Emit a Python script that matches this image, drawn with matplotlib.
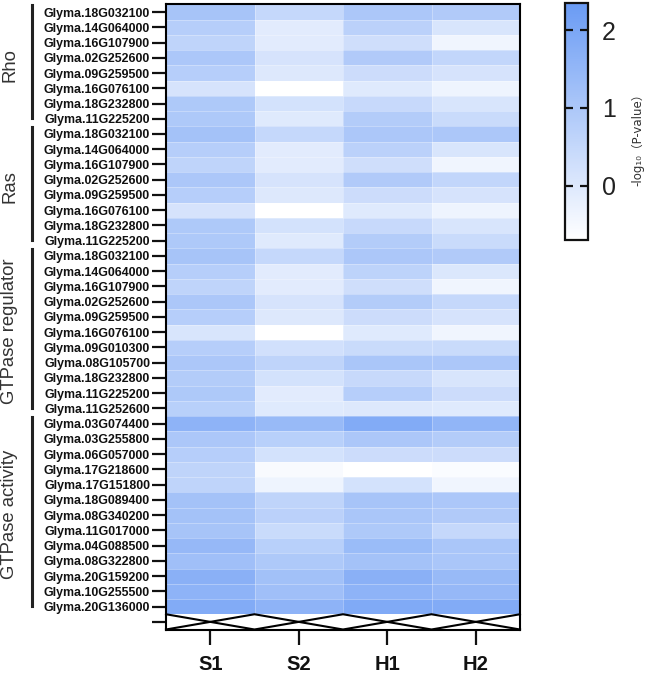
import numpy as np
import matplotlib
matplotlib.use("Agg")
import matplotlib.pyplot as plt
from matplotlib.colors import LinearSegmentedColormap

# ---------------- data ----------------
columns = ["S1", "S2", "H1", "H2"]

group_names = ["Rho", "Ras", "GTPase regulator", "GTPase activity"]

rho_genes = ["Glyma.18G032100", "Glyma.14G064000", "Glyma.16G107900", "Glyma.02G252600",
             "Glyma.09G259500", "Glyma.16G076100", "Glyma.18G232800", "Glyma.11G225200"]
rho_vals = [[1.10, 0.50, 1.00, 0.90],
            [0.80, -0.10, 0.70, 0.10],
            [0.60, -0.10, 0.30, -0.40],
            [1.00, 0.15, 0.90, 0.55],
            [0.80, 0.00, 0.35, 0.15],
            [0.15, -0.70, -0.05, -0.35],
            [0.95, 0.20, 0.45, 0.10],
            [0.95, -0.05, 0.85, 0.40]]

ras_genes = ["Glyma.18G032100", "Glyma.14G064000", "Glyma.16G107900", "Glyma.02G252600",
             "Glyma.09G259500", "Glyma.16G076100", "Glyma.18G232800", "Glyma.11G225200"]
ras_vals = [[1.15, 0.50, 1.00, 1.00],
            [0.80, -0.10, 0.70, 0.10],
            [0.60, -0.10, 0.30, -0.40],
            [1.00, 0.15, 0.90, 0.55],
            [0.80, 0.00, 0.35, 0.15],
            [0.15, -0.70, -0.05, -0.35],
            [0.95, 0.20, 0.45, 0.10],
            [0.95, -0.05, 0.85, 0.40]]

reg_genes = ["Glyma.18G032100", "Glyma.14G064000", "Glyma.16G107900", "Glyma.02G252600",
             "Glyma.09G259500", "Glyma.16G076100", "Glyma.09G010300", "Glyma.08G105700",
             "Glyma.18G232800", "Glyma.11G225200", "Glyma.11G252600"]
reg_vals = [[1.10, 0.50, 1.00, 0.90],
            [0.80, -0.10, 0.65, 0.05],
            [0.60, -0.10, 0.30, -0.40],
            [1.00, 0.15, 0.85, 0.50],
            [0.80, 0.00, 0.35, 0.15],
            [0.10, -0.70, -0.05, -0.40],
            [0.80, 0.25, 0.40, 0.40],
            [1.00, 0.60, 1.05, 1.00],
            [0.85, 0.20, 0.45, 0.10],
            [0.95, -0.10, 0.80, 0.35],
            [0.75, -0.05, 0.00, -0.05]]

act_genes = ["Glyma.03G074400", "Glyma.03G255800", "Glyma.06G057000", "Glyma.17G218600",
             "Glyma.17G151800", "Glyma.18G089400", "Glyma.08G340200", "Glyma.11G017000",
             "Glyma.04G088500", "Glyma.08G322800", "Glyma.20G159200", "Glyma.10G255500",
             "Glyma.20G136000"]
act_vals = [[1.60, 1.40, 1.85, 1.55],
            [1.00, 0.75, 1.00, 0.85],
            [0.80, 0.20, 0.35, 0.35],
            [0.60, -0.55, -0.70, -0.60],
            [0.60, -0.35, 0.20, -0.40],
            [1.15, 0.60, 1.10, 1.00],
            [1.15, 0.70, 1.05, 0.90],
            [1.10, 0.40, 0.95, 0.50],
            [1.45, 0.75, 1.35, 1.05],
            [1.25, 0.95, 1.15, 1.05],
            [1.70, 1.20, 1.70, 1.40],
            [1.60, 1.25, 1.60, 1.45],
            [1.85, 1.60, 1.90, 1.85]]

cbar_ticks = [0, 1, 2]
vmin, vmax = -0.7, 2.35

# ---------------- assemble ----------------
groups = [(rho_genes, rho_vals), (ras_genes, ras_vals),
          (reg_genes, reg_vals), (act_genes, act_vals)]
genes = sum([g for g, _ in groups], [])
vals = np.vstack([np.array(v, dtype=float) for _, v in groups])
n_rows = len(genes)
# extra empty row at the bottom (crossed pattern)
data = np.vstack([vals, np.full((1, len(columns)), np.nan)])
data = np.ma.masked_invalid(data)

cmap = LinearSegmentedColormap.from_list("wb", ["#ffffff", "#6a9bf4"])

fig = plt.figure(figsize=(6.5, 6.74), dpi=100)
W, H = 650, 674

def fx(px):
    return px / W

def fy(py):
    return 1 - py / H

top_px, bot_px = 4.4, 629.5
row_px = (bot_px - top_px) / (n_rows + 1)
ax = fig.add_axes([fx(166), fy(bot_px), fx(520) - fx(166), fy(top_px) - fy(bot_px)])
ax.set_facecolor("white")
mesh = ax.pcolormesh(np.arange(len(columns) + 1), np.arange(n_rows + 2), data,
                     cmap=cmap, vmin=vmin, vmax=vmax, shading="flat")
ax.set_xlim(0, len(columns))
ax.set_ylim(n_rows + 1, 0)

# faint cell separators
for r in range(1, n_rows + 1):
    ax.axhline(r, color="white", lw=0.6, alpha=0.35)
for c in range(1, len(columns)):
    ax.plot([c, c], [0, n_rows], color="white", lw=0.6, alpha=0.35)

# crossed pattern in last row
xs = np.arange(len(columns) + 1)
ya = [n_rows + 1 if i % 2 == 0 else n_rows for i in xs]
yb = [n_rows if i % 2 == 0 else n_rows + 1 for i in xs]
ax.plot(xs, ya, color="black", lw=1.5, clip_on=False)
ax.plot(xs, yb, color="black", lw=1.5, clip_on=False)

for s in ax.spines.values():
    s.set_linewidth(1.5)
    s.set_color("black")

ax.set_yticks(np.arange(n_rows + 1) + 0.5)
ax.set_yticklabels(genes + [""], fontfamily="Liberation Sans", fontweight="bold",
                   fontsize=8.9, color="#111111")
ax.tick_params(axis="y", length=10, width=1.6, pad=1.5, color="#111111")
ax.set_xticks(np.arange(len(columns)) + 0.5)
ax.set_xticklabels(columns, fontfamily="Liberation Sans", fontweight="bold",
                   fontsize=14.5, color="#111111")
ax.tick_params(axis="x", length=11, width=1.6, pad=7, color="#111111")

# group brackets and labels
start = 0
for name, (g, _) in zip(group_names, groups):
    end = start + len(g)
    y0 = start + 0.05
    y1 = end - 0.55
    fig.lines.append(plt.Line2D([fx(32), fx(32)],
                                [fy(top_px + y0 * row_px), fy(top_px + y1 * row_px)],
                                transform=fig.transFigure, color="#222222", lw=2.2))
    yc = top_px + ((y0 + y1) / 2) * row_px + 3
    fig.text(fx(10), fy(yc), name, rotation=90, ha="center", va="center",
             fontfamily="Liberation Sans", fontsize=13.3, color="#333333")
    start = end

# colorbar
cax = fig.add_axes([fx(565), fy(240), fx(588) - fx(565), fy(3) - fy(240)])
cb = fig.colorbar(mesh, cax=cax, ticks=cbar_ticks)
cb.outline.set_linewidth(1.6)
cb.outline.set_edgecolor("#111111")
cax.tick_params(left=True, right=True, direction="in", length=6, width=1.6,
                labelsize=18, pad=10, color="#111111", labelcolor="#222222")
for t in cax.get_yticklabels():
    t.set_fontfamily("Liberation Sans")
fig.text(fx(638), fy(137), "-log₁₀（P-value）", rotation=90, ha="center", va="center",
         fontsize=8.5, color="#333333", family=["DejaVu Sans", "Noto Sans CJK SC"])

fig.savefig("out.png", dpi=100)
